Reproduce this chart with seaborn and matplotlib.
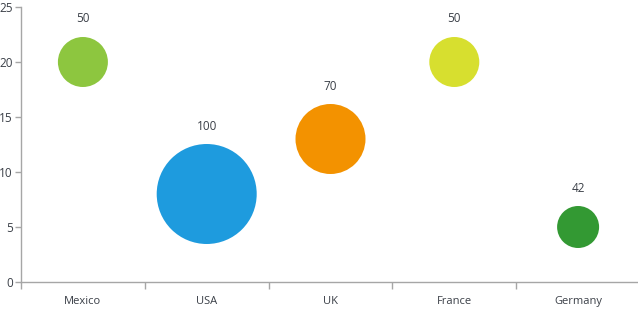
import matplotlib
matplotlib.use("Agg")
import matplotlib.pyplot as plt
import seaborn as sns
import pandas as pd
import numpy as np

countries = ["Mexico", "USA", "UK", "France", "Germany"]
yvalues = [20, 8, 13, 20, 5]
bubble_sizes = [50, 100, 70, 50, 42]
colors = ["#8DC63F", "#1E9BDE", "#F39200", "#D7DF2F", "#339933"]

df = pd.DataFrame({"country": countries, "y": yvalues, "size": bubble_sizes})
df["xi"] = np.arange(len(countries))

sns.set_style("white")
plt.rcParams["font.family"] = ["Open Sans", "DejaVu Sans"]

dpi = 100
fig = plt.figure(figsize=(638 / dpi, 309 / dpi), dpi=dpi)
ax = fig.add_axes([21 / 638, 27 / 309, 619 / 638, 275 / 309])

px2pt = 72 / dpi
areas = [(v * px2pt) ** 2 for v in bubble_sizes]
sns.scatterplot(data=df, x="xi", y="y", hue="country", palette=colors,
                s=areas, linewidth=0, legend=False, ax=ax, clip_on=False, alpha=1)

for xi, yv, sz in zip(df["xi"], yvalues, bubble_sizes):
    ax.annotate(str(sz), (xi, yv), xytext=(0, (sz / 2 + 18) * px2pt),
                textcoords="offset points", ha="center", va="center",
                fontsize=8.5, color="#3a3f47")

ax.set_xlim(-0.5, len(countries) - 0.5)
ax.set_ylim(0, 25)
ax.set_yticks([0, 5, 10, 15, 20, 25])
ax.set_xticks(np.arange(len(countries)))
ax.set_xticklabels(countries)
ax.set_xticks(np.arange(len(countries)) - 0.5, minor=True)
ax.tick_params(axis="x", which="major", bottom=True, length=0, pad=10,
               labelsize=8, labelcolor="#3a3f47")
ax.tick_params(axis="x", which="minor", bottom=True, length=5, color="#a6a6a6",
               width=1, direction="out")
ax.tick_params(axis="y", left=True, length=4, color="#a6a6a6", width=1, direction="out",
               pad=2, labelsize=8.5, labelcolor="#3a3f47")
ax.set_xlabel("")
ax.set_ylabel("")
for s in ["top", "right"]:
    ax.spines[s].set_visible(False)
for s in ["left", "bottom"]:
    ax.spines[s].set_color("#a6a6a6")
    ax.spines[s].set_linewidth(1)

fig.savefig("out.png", dpi=dpi)
